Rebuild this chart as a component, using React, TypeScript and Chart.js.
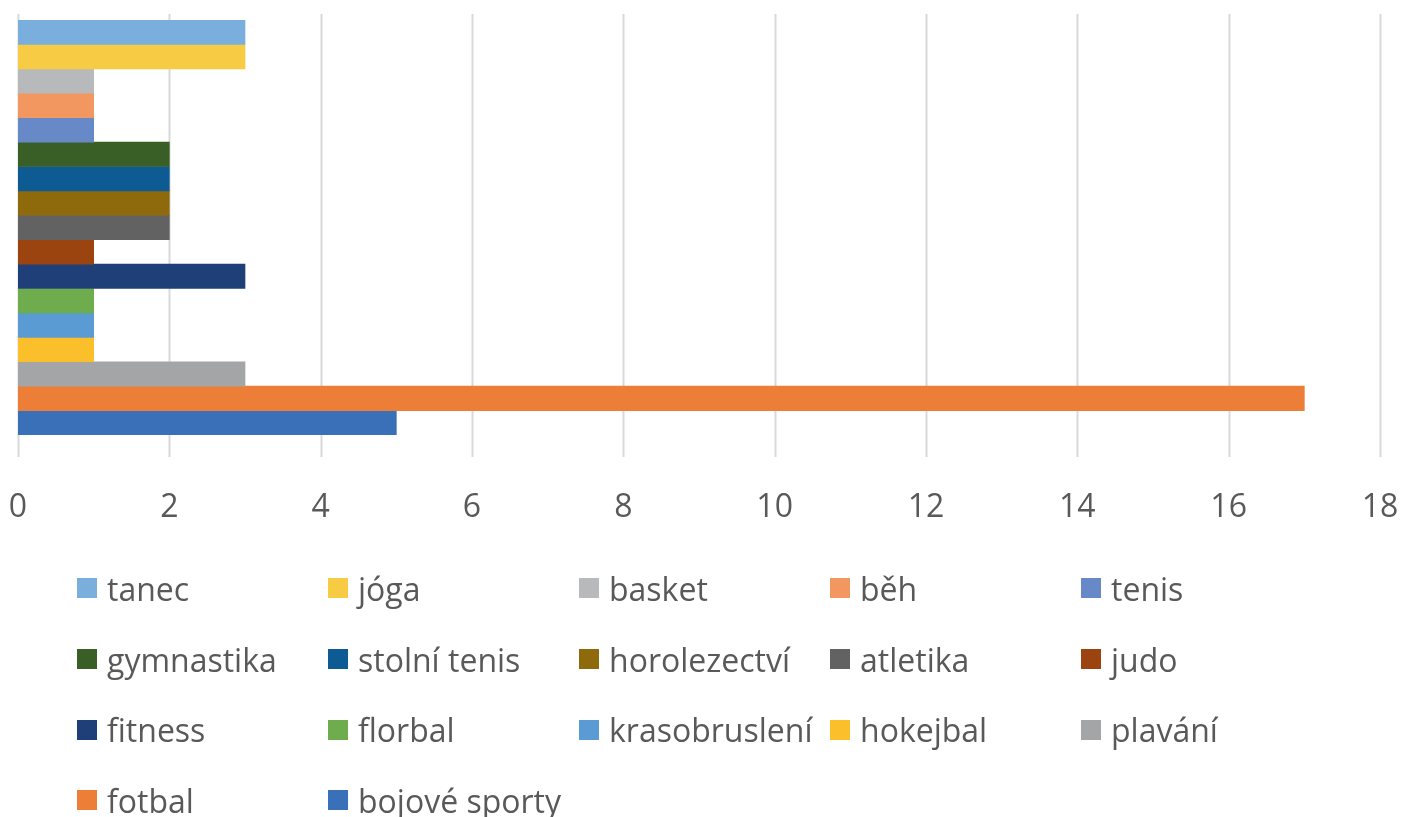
import React, { useEffect, useRef } from "react";
import { Chart, registerables } from "chart.js";

Chart.register(...registerables);

// Series in legend order (top bar first)
const seriesNames = [
  "tanec", "jóga", "basket", "běh", "tenis",
  "gymnastika", "stolní tenis", "horolezectví", "atletika", "judo",
  "fitness", "florbal", "krasobruslení", "hokejbal", "plavání",
  "fotbal", "bojové sporty",
];
const seriesValues = [3, 3, 1, 1, 1, 2, 2, 2, 2, 1, 3, 1, 1, 1, 3, 17, 5];
const seriesColors = [
  "#7AAEDC", "#F8CB44", "#B8B9BB", "#F29760", "#6889C7",
  "#3A5F26", "#0E5A92", "#8F6A0D", "#626262", "#9B4410",
  "#1E3F78", "#6EAC4D", "#5A9BD3", "#FBBF2B", "#A3A5A6",
  "#ED7E38", "#3A70B8",
];
const categories = [""];
const xTicks = [0, 2, 4, 6, 8, 10, 12, 14, 16, 18];

const FONT = "'Open Sans', sans-serif";

const gridPlugin = {
  id: "extGrid",
  beforeDatasetsDraw(chart: any) {
    const { ctx, chartArea, scales } = chart;
    const xs = scales.x;
    ctx.save();
    ctx.strokeStyle = "#D9D9D9";
    ctx.lineWidth = 2;
    xs.ticks.forEach((t: any) => {
      const x = Math.round(xs.getPixelForValue(t.value)) + 0.5;
      ctx.beginPath();
      ctx.moveTo(x, chartArea.top - 6);
      ctx.lineTo(x, chartArea.bottom + 22);
      ctx.stroke();
    });
    ctx.restore();
  },
};

export default function App() {
  const ref = useRef<HTMLCanvasElement | null>(null);
  useEffect(() => {
    if (!ref.current) return;
    const chart = new Chart(ref.current, {
      type: "bar",
      data: {
        labels: categories,
        datasets: seriesNames.map((name, i) => ({
          label: name,
          data: [seriesValues[i]],
          backgroundColor: seriesColors[i],
          borderWidth: 0,
          categoryPercentage: 1,
          barPercentage: 1,
        })),
      },
      options: {
        indexAxis: "y",
        animation: false,
        responsive: false,
        maintainAspectRatio: false,
        layout: { padding: { left: 18, right: 23, top: 20, bottom: 292 } },
        plugins: { legend: { display: false }, tooltip: { enabled: false } },
        scales: {
          x: {
            type: "linear",
            min: 0,
            max: 18,
            afterBuildTicks: (axis: any) => {
              axis.ticks = xTicks.map((v) => ({ value: v }));
            },
            afterFit: (axis: any) => {
              axis.height = 90;
              axis.paddingLeft = 0;
              axis.paddingRight = 0;
              axis.paddingTop = 0;
              axis.paddingBottom = 0;
            },
            grid: { display: false },
            border: { display: false },
            ticks: {
              padding: 46,
              autoSkip: false,
              maxRotation: 0,
              minRotation: 0,
              color: "#595959",
              font: { family: FONT, size: 32 },
            },
          },
          y: { display: false },
        },
      },
      plugins: [gridPlugin],
    });
    return () => chart.destroy();
  }, []);

  return (
    <div style={{ position: "absolute", left: 0, top: 0, width: 1403, height: 817, background: "#fff" }}>
      <canvas ref={ref} width={1403} height={817} style={{ position: "absolute", left: 0, top: 0 }} />
      <div
        style={{
          position: "absolute",
          left: 77,
          top: 553,
          display: "grid",
          gridTemplateColumns: "repeat(5, 251px)",
          gridAutoRows: "70.7px",
          fontFamily: FONT,
          fontSize: 32,
          color: "#595959",
        }}
      >
        {seriesNames.map((name, i) => (
          <div key={name} style={{ display: "flex", alignItems: "center", whiteSpace: "nowrap" }}>
            <span style={{ width: 20, height: 20, background: seriesColors[i], marginRight: 10, flex: "none" }} />
            <span>{name}</span>
          </div>
        ))}
      </div>
    </div>
  );
}
